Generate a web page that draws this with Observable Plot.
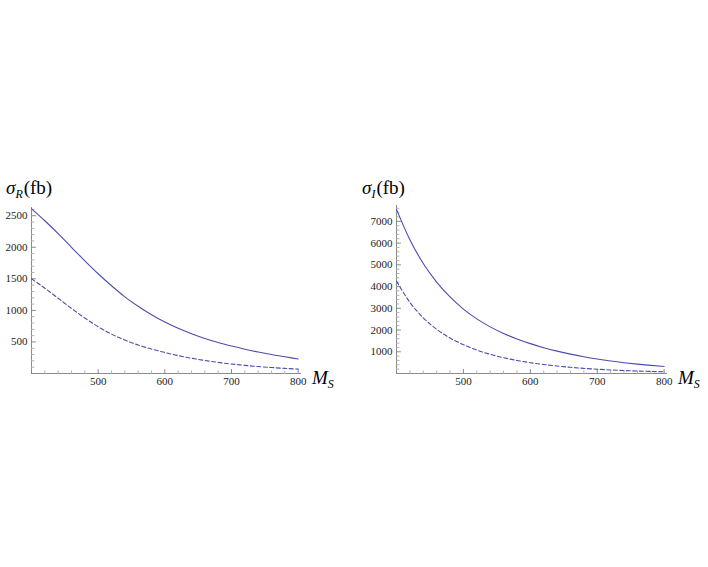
<!DOCTYPE html>
<html>
<head>
<meta charset="utf-8">
<script src="https://cdn.jsdelivr.net/npm/d3@7"></script>
<script src="https://cdn.jsdelivr.net/npm/@observablehq/plot@0.6"></script>
<style>
  html, body { margin: 0; padding: 0; background: #fff; }
  #wrap { display: flex; width: 708px; height: 567px; }
  #wrap svg { display: block; }
</style>
</head>
<body>
<div id="wrap"></div>
<script>
// M_S values (GeV)
const ms = [400,420,440,460,480,500,520,540,560,580,600,620,640,660,680,700,720,740,760,780,800];
// Left panel: sigma_R (fb)
const sigmaRSolid  = [2610,2420,2215,2000,1785,1580,1390,1215,1065,930,815,715,630,555,490,435,385,340,300,265,230];
const sigmaRDashed = [1500,1351,1192,1031,879,741,625,530,452,387,333,284,242,206,176,150,129,110,95,81,70];
// Right panel: sigma_I (fb)
const sigmaISolid  = [7550,6152,5062,4207,3521,2964,2513,2146,1843,1590,1375,1189,1029,890,770,666,576,498,431,373,322];
const sigmaIDashed = [4250,3277,2564,2037,1635,1325,1080,884,727,601,497,413,343,285,237,197,164,137,114,95,80];

// Tick labels
const xMajor = [500,600,700,800];
const xMinor = [420,440,460,480,520,540,560,580,620,640,660,680,720,740,760,780];
const yRMajor = [500,1000,1500,2000,2500];
const yRMinor = d3.range(100, 2700, 100).filter(v => v % 500 !== 0);
const yIMajor = [1000,2000,3000,4000,5000,6000,7000];
const yIMinor = d3.range(200, 7800, 200).filter(v => v % 1000 !== 0);

const lineColor = "#4d4daa";
const axisColor = "#8a8a8a";
const font = "'Liberation Serif', 'Times New Roman', serif";

const tickShape = { draw(ctx, l) { ctx.moveTo(0, 0); ctx.lineTo(0, -l); } };

function rows(values) {
  return ms.map((m, i) => ({m, v: values[i]}));
}

function panel({solid, dashed, yMax, yMajor, yMinor, marginLeft, marginRight, marginTop, marginBottom, sub, labelX}) {
  const svg = Plot.plot({
    width: 354,
    height: 567,
    marginLeft, marginRight, marginTop, marginBottom,
    style: {fontFamily: font, background: "white", overflow: "visible"},
    x: {domain: [400, 805]},
    y: {domain: [0, yMax]},
    marks: [
      Plot.ruleY([0], {stroke: axisColor, strokeWidth: 1}),
      Plot.ruleX([400], {stroke: axisColor, strokeWidth: 1}),
      Plot.vector(yMajor, {y: d => d, frameAnchor: "left", rotate: 90, length: 4, anchor: "start", shape: tickShape, stroke: axisColor, strokeWidth: 1}),
      Plot.vector(yMinor, {y: d => d, frameAnchor: "left", rotate: 90, length: 2.5, anchor: "start", shape: tickShape, stroke: "#b0b0b0", strokeWidth: 1}),
      Plot.vector(xMajor, {x: d => d, frameAnchor: "bottom", rotate: 0, length: 4, anchor: "start", shape: tickShape, stroke: axisColor, strokeWidth: 1}),
      Plot.vector(xMinor, {x: d => d, frameAnchor: "bottom", rotate: 0, length: 2.5, anchor: "start", shape: tickShape, stroke: "#b0b0b0", strokeWidth: 1}),
      Plot.axisY({ticks: yMajor, tickSize: 0, tickPadding: 4, label: null, fontSize: 11, fontFamily: font, color: "#222", tickFormat: d3.format("d")}),
      Plot.axisX({ticks: xMajor, tickSize: 0, tickPadding: 4, label: null, fontSize: 11, fontFamily: font, color: "#222", tickFormat: d3.format("d")}),
      Plot.line(rows(solid), {x: "m", y: "v", stroke: lineColor, strokeWidth: 1.1, curve: "monotone-x"}),
      Plot.line(rows(dashed), {x: "m", y: "v", stroke: lineColor, strokeWidth: 1.1, strokeDasharray: "4,2.5", curve: "monotone-x"})
    ]
  });
  const s = d3.select(svg);
  // y label: sigma_sub(fb)
  const t = s.append("text")
    .attr("x", labelX)
    .attr("y", 194)
    .attr("text-anchor", "start")
    .attr("font-family", font)
    .attr("font-size", 19)
    .attr("fill", "#000");
  t.append("tspan").attr("font-style", "italic").text("σ");
  t.append("tspan").attr("font-style", "italic").attr("font-size", 12).attr("dy", 4).text(sub);
  t.append("tspan").attr("dy", -4).attr("dx", 1).text("(fb)");
  // x label: M_S
  const xr = svg.scale("x").apply(805);
  const u = s.append("text")
    .attr("x", xr + 11)
    .attr("y", 384)
    .attr("text-anchor", "start")
    .attr("font-family", font)
    .attr("font-size", 19)
    .attr("fill", "#000");
  u.append("tspan").attr("font-style", "italic").text("M");
  u.append("tspan").attr("font-style", "italic").attr("font-size", 12).attr("dy", 4).text("S");
  return svg;
}

const wrap = document.getElementById("wrap");
wrap.appendChild(panel({
  solid: sigmaRSolid, dashed: sigmaRDashed, yMax: 2630,
  yMajor: yRMajor, yMinor: yRMinor,
  marginLeft: 31, marginRight: 53, marginTop: 207, marginBottom: 194, sub: "R", labelX: 6
}));
wrap.appendChild(panel({
  solid: sigmaISolid, dashed: sigmaIDashed, yMax: 7730,
  yMajor: yIMajor, yMinor: yIMinor,
  marginLeft: 42, marginRight: 41, marginTop: 205, marginBottom: 194, sub: "I", labelX: 8
}));
</script>
</body>
</html>
